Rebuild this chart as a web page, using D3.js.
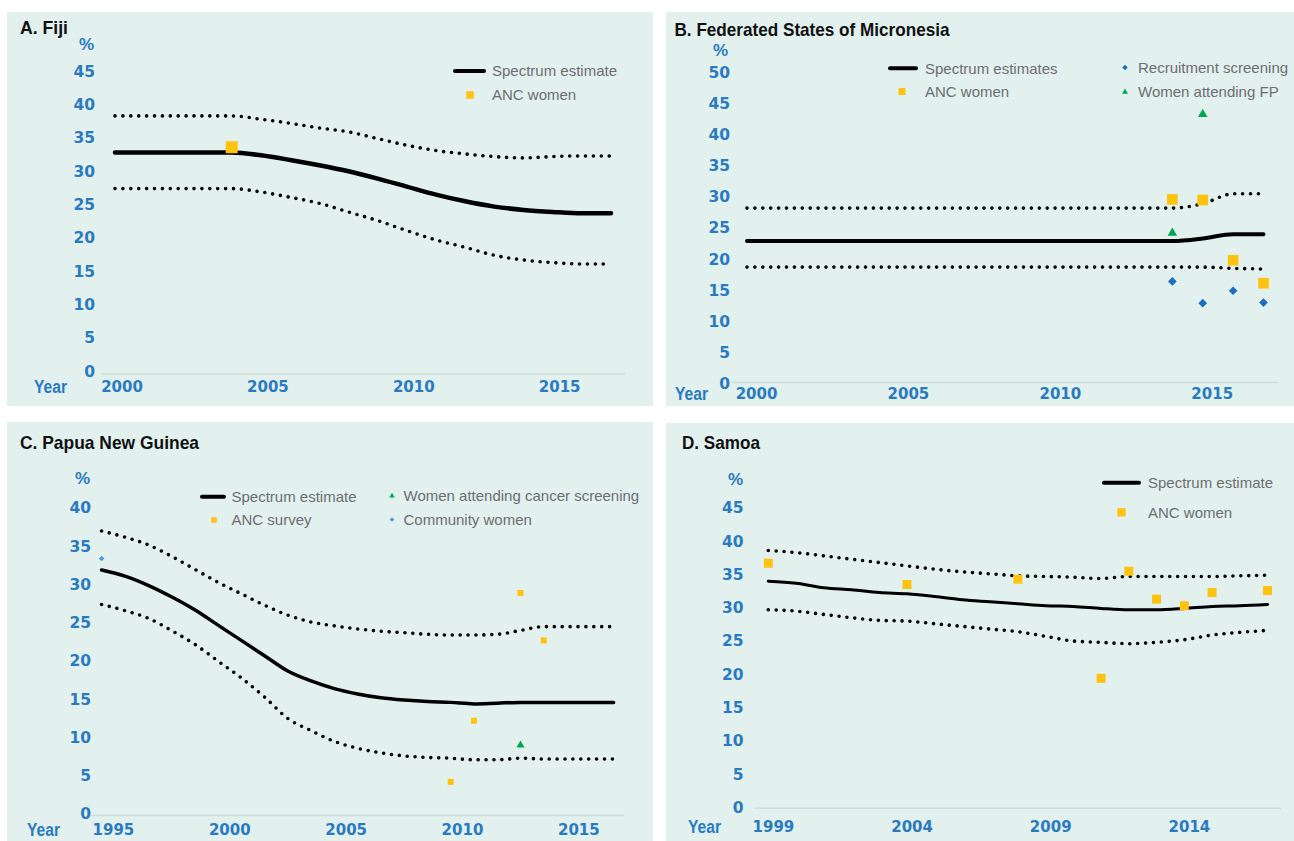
<!DOCTYPE html>
<html><head><meta charset="utf-8">
<script src="https://cdn.jsdelivr.net/npm/d3@7"></script>
<style>body{margin:0;background:#fff} svg{display:block}</style>
</head><body>
<svg id="chart" width="1294" height="841"></svg>
<script>
// ---------------- DATA ----------------
// A. Fiji
const fijiYears    = [2000,2001,2002,2003,2004,2005,2006,2007,2008,2009,2010,2011,2012,2013,2014,2015,2016,2017];
const fijiSpectrum = [32.7,32.7,32.7,32.7,32.7,32.3,31.6,30.8,29.9,28.8,27.6,26.4,25.4,24.6,24.1,23.8,23.6,23.6];
const fijiUpper    = [38.2,38.2,38.2,38.2,38.2,37.7,37.1,36.4,35.8,34.8,33.8,33.0,32.5,32.1,31.9,32.1,32.2,32.2];
const fijiLower    = [27.3,27.3,27.3,27.3,27.3,26.8,26.0,25.1,23.8,22.5,21.0,19.6,18.5,17.3,16.6,16.2,16.0,16.0];
const fijiAncYears = [2004];
const fijiAncValues = [33.5];
const fijiXTicks = [2000,2005,2010,2015];
const fijiYTicks = [0,5,10,15,20,25,30,35,40,45];

// B. Federated States of Micronesia
const fsmYears    = [2000,2001,2002,2003,2004,2005,2006,2007,2008,2009,2010,2011,2012,2013,2014,2015,2016,2017];
const fsmSpectrum = [22.8,22.8,22.8,22.8,22.8,22.8,22.8,22.8,22.8,22.8,22.8,22.8,22.8,22.8,22.8,23.2,23.9,23.9];
const fsmUpper    = [28.1,28.1,28.1,28.1,28.1,28.1,28.1,28.1,28.1,28.1,28.1,28.1,28.1,28.1,28.1,28.8,30.4,30.4];
const fsmLower    = [18.6,18.6,18.6,18.6,18.6,18.6,18.6,18.6,18.6,18.6,18.6,18.6,18.6,18.6,18.6,18.6,18.4,18.3];
const fsmAncYears = [2014,2015,2016,2017];
const fsmAncValues = [29.5,29.4,19.7,16.0];
const fsmRecruitYears = [2014,2015,2016,2017];
const fsmRecruitValues = [16.3,12.8,14.8,12.9];
const fsmFpYears = [2014,2015];
const fsmFpValues = [24.1,43.2];
const fsmXTicks = [2000,2005,2010,2015];
const fsmYTicks = [0,5,10,15,20,25,30,35,40,45,50];

// C. Papua New Guinea
const pngYears    = [1995,1996,1997,1998,1999,2000,2001,2002,2003,2004,2005,2006,2007,2008,2009,2010,2011,2012,2013,2014,2015,2016,2017];
const pngSpectrum = [31.8,31.0,29.8,28.3,26.6,24.6,22.6,20.6,18.6,17.3,16.3,15.6,15.1,14.8,14.6,14.5,14.3,14.4,14.5,14.5,14.5,14.5,14.5];
const pngUpper    = [36.9,36.1,35.1,33.6,31.9,30.2,28.7,27.2,25.9,25.0,24.5,24.1,23.8,23.6,23.4,23.3,23.3,23.4,23.9,24.4,24.4,24.4,24.4];
const pngLower    = [27.3,26.5,25.5,23.9,22.1,19.9,17.7,15.2,12.4,10.8,9.4,8.5,7.9,7.5,7.3,7.2,7.0,7.0,7.2,7.1,7.1,7.1,7.1];
const pngAncYears = [2010,2011,2013,2014];
const pngAncValues = [4.1,12.1,28.8,22.6];
const pngCancerYears = [2013];
const pngCancerValues = [8.9];
const pngCommunityYears = [1995];
const pngCommunityValues = [33.3];
const pngXTicks = [1995,2000,2005,2010,2015];
const pngYTicks = [0,5,10,15,20,25,30,35,40];

// D. Samoa
const samoaYears    = [1999,2000,2001,2002,2003,2004,2005,2006,2007,2008,2009,2010,2011,2012,2013,2014,2015,2016,2017];
const samoaSpectrum = [33.9,33.6,32.9,32.6,32.2,32.0,31.6,31.1,30.8,30.5,30.2,30.1,29.8,29.6,29.6,29.8,30.1,30.2,30.4];
const samoaUpper    = [38.5,38.2,37.7,37.2,36.7,36.2,35.7,35.3,35.0,34.7,34.6,34.5,34.3,34.6,34.6,34.6,34.6,34.7,34.8];
const samoaLower    = [29.6,29.4,28.9,28.4,28.0,27.9,27.5,27.1,26.7,26.3,25.6,24.9,24.7,24.5,24.7,25.1,25.8,26.2,26.5];
const samoaAncYears = [1999,2004,2008,2011,2012,2013,2014,2015,2017];
const samoaAncValues = [36.6,33.4,34.2,19.3,35.4,31.2,30.2,32.2,32.5];
const samoaXTicks = [1999,2004,2009,2014];
const samoaYTicks = [0,5,10,15,20,25,30,35,40,45];

// ---------------- STYLE ----------------
const BG = '#e2f1ee';
const TICK_BLUE = '#2a7abf';
const YELLOW = '#ffc20e';
const GREEN = '#00a651';
const BLUE = '#1b6fbd';
const LIGHTBLUE = '#4f9ad8';
const LEGEND_GREY = '#6d6e71';
const TITLE_FONT = '"Liberation Sans", Arial, sans-serif';
const TICK_FONT = '"DejaVu Sans", sans-serif';

const svg = d3.select('#chart');

function symbolPath(shape, size) {
  if (shape === 'square') return d3.symbol(d3.symbolSquare, size * size)();
  if (shape === 'diamond') { const s = size / Math.SQRT2; return d3.symbol(d3.symbolSquare, s * s)(); }
  if (shape === 'triangle') return d3.symbol(d3.symbolTriangle, size * size * Math.sqrt(3) / 4)();
}
function markerTransform(shape, x, y) {
  return `translate(${x},${y})` + (shape === 'diamond' ? ' rotate(45)' : '');
}

function drawPanel(c) {
  const g = svg.append('g');
  g.append('rect').attr('x', c.bg[0]).attr('y', c.bg[1]).attr('width', c.bg[2]).attr('height', c.bg[3]).attr('fill', BG);

  g.append('text').attr('x', c.titlePos[0]).attr('y', c.titlePos[1]).attr('dy', '0.36em')
    .attr('font-family', TITLE_FONT).attr('font-weight', 'bold').attr('font-size', 18.5)
    .attr('textLength', c.titleWidth).attr('lengthAdjust', 'spacingAndGlyphs')
    .attr('fill', '#111').text(c.title);

  const x = d3.scaleLinear().domain(c.xDomain).range(c.xRange);
  const yMax = c.yTicks[c.yTicks.length - 1];
  const y = d3.scaleLinear().domain([0, yMax]).range([c.yZero, c.yZero - yMax * c.yPx]);

  // x axis line
  g.append('line').attr('x1', c.axisX[0]).attr('x2', c.axisX[1]).attr('y1', c.axisY).attr('y2', c.axisY)
    .attr('stroke', '#cfdcd9').attr('stroke-width', 1.5);

  // y axis labels
  const ya = g.append('g').attr('transform', `translate(${c.yLabelRight},0)`)
    .call(d3.axisLeft(y).tickValues(c.yTicks).tickSize(0).tickPadding(0));
  ya.select('.domain').remove();
  ya.selectAll('text').attr('font-family', TICK_FONT).attr('font-weight', 'bold').attr('font-size', 15.5)
    .attr('fill', TICK_BLUE).attr('dy', '0.36em');

  // x axis labels
  const xa = g.append('g').attr('transform', `translate(${c.xLabelDx},${c.xLabelY})`)
    .call(d3.axisBottom(x).tickValues(c.xTicks).tickSize(0).tickPadding(0).tickFormat(d3.format('d')));
  xa.select('.domain').remove();
  xa.selectAll('text').attr('y', 0).attr('dy', '0.36em').attr('font-family', TICK_FONT).attr('font-weight', 'bold')
    .attr('font-size', 15).attr('fill', TICK_BLUE);

  // % and Year
  g.append('text').attr('x', c.pctPos[0]).attr('y', c.pctPos[1]).attr('dy', '0.36em').attr('text-anchor', 'end')
    .attr('font-family', TITLE_FONT).attr('font-weight', 'bold').attr('font-size', 17).attr('fill', TICK_BLUE).text('%');
  g.append('text').attr('x', c.yearPos[0]).attr('y', c.xLabelY).attr('dy', '0.36em')
    .attr('font-family', TITLE_FONT).attr('font-weight', 'bold').attr('font-size', 17.5)
    .attr('textLength', 33).attr('lengthAdjust', 'spacingAndGlyphs')
    .attr('fill', TICK_BLUE).text('Year');

  // lines
  const mk = (vals) => d3.line().x((d, i) => x(c.years[i])).y(d => y(d)).curve(d3.curveMonotoneX)(vals);
  [c.upper, c.lower].forEach(vals => {
    g.append('path').attr('d', mk(vals)).attr('fill', 'none').attr('stroke', '#000')
      .attr('stroke-width', 3.6).attr('stroke-linecap', 'round').attr('stroke-dasharray', '0 7.9');
  });
  g.append('path').attr('d', mk(c.mid)).attr('fill', 'none').attr('stroke', '#000')
    .attr('stroke-width', c.lineWidth).attr('stroke-linecap', 'round');

  // points
  c.points.forEach(p => {
    g.selectAll(null).data(p.values).enter().append('path')
      .attr('d', symbolPath(p.shape, p.size))
      .attr('transform', (d, i) => markerTransform(p.shape, x(p.years[i]), y(d)))
      .attr('fill', p.color);
  });

  // legend
  c.legend.forEach(l => {
    if (l.type === 'line') {
      g.append('line').attr('x1', l.x1).attr('x2', l.x2).attr('y1', l.y).attr('y2', l.y)
        .attr('stroke', '#000').attr('stroke-width', 4).attr('stroke-linecap', 'round');
    } else {
      g.append('path').attr('d', symbolPath(l.shape, l.size)).attr('transform', markerTransform(l.shape, l.mx, l.y))
        .attr('fill', l.color);
    }
    g.append('text').attr('x', l.tx).attr('y', l.y).attr('dy', '0.36em')
      .attr('font-family', TITLE_FONT).attr('font-size', 15).attr('fill', LEGEND_GREY).text(l.label);
  });
}

// A. Fiji
drawPanel({
  bg: [7, 12, 646, 394], title: 'A. Fiji', titleWidth: 48, titlePos: [20, 27],
  years: fijiYears, mid: fijiSpectrum, upper: fijiUpper, lower: fijiLower,
  xDomain: [2000, 2017], xRange: [115, 611], xTicks: fijiXTicks, xLabelDx: 6.5, xLabelY: 386.5,
  yTicks: fijiYTicks, yZero: 370.7, yPx: 6.67, yLabelRight: 95,
  axisY: 374, axisX: [101, 625], pctPos: [94, 43.5], yearPos: [34, 0],
  lineWidth: 4.5,
  points: [{years: fijiAncYears, values: fijiAncValues, shape: 'square', size: 12, color: YELLOW}],
  legend: [
    {type: 'line', x1: 455, x2: 484, y: 71, tx: 492, label: 'Spectrum estimate'},
    {type: 'marker', shape: 'square', size: 7.5, color: YELLOW, mx: 470, y: 95, tx: 492, label: 'ANC women'}
  ]
});

// B. FSM
drawPanel({
  bg: [666, 12, 628, 394], title: 'B. Federated States of Micronesia', titleWidth: 275, titlePos: [674.5, 29.3],
  years: fsmYears, mid: fsmSpectrum, upper: fsmUpper, lower: fsmLower,
  xDomain: [2000, 2017], xRange: [747, 1263.5], xTicks: fsmXTicks, xLabelDx: 9, xLabelY: 393.3,
  yTicks: fsmYTicks, yZero: 382.7, yPx: 6.214, yLabelRight: 730,
  axisY: 382.5, axisX: [732, 1278], pctPos: [728, 50], yearPos: [675, 0],
  lineWidth: 4,
  points: [
    {years: fsmAncYears, values: fsmAncValues, shape: 'square', size: 10.7, color: YELLOW},
    {years: fsmRecruitYears, values: fsmRecruitValues, shape: 'diamond', size: 8.7, color: BLUE},
    {years: fsmFpYears, values: fsmFpValues, shape: 'triangle', size: 9.5, color: GREEN}
  ],
  legend: [
    {type: 'line', x1: 890, x2: 916, y: 68.3, tx: 925, label: 'Spectrum estimates'},
    {type: 'marker', shape: 'square', size: 7, color: YELLOW, mx: 902, y: 91.5, tx: 925, label: 'ANC women'},
    {type: 'marker', shape: 'diamond', size: 5.5, color: BLUE, mx: 1125, y: 67.5, tx: 1138, label: 'Recruitment screening'},
    {type: 'marker', shape: 'triangle', size: 6, color: GREEN, mx: 1125, y: 92, tx: 1138, label: 'Women attending FP'}
  ]
});

// C. PNG
drawPanel({
  bg: [7, 422, 646, 419], title: 'C. Papua New Guinea', titleWidth: 179, titlePos: [20, 442.7],
  years: pngYears, mid: pngSpectrum, upper: pngUpper, lower: pngLower,
  xDomain: [1995, 2017], xRange: [101.6, 613.6], xTicks: pngXTicks, xLabelDx: 11.3, xLabelY: 829.3,
  yTicks: pngYTicks, yZero: 813.3, yPx: 7.65, yLabelRight: 91,
  axisY: 815.5, axisX: [91, 624], pctPos: [90, 478.3], yearPos: [27, 0],
  lineWidth: 3.5,
  points: [
    {years: pngAncYears, values: pngAncValues, shape: 'square', size: 6, color: YELLOW},
    {years: pngCancerYears, values: pngCancerValues, shape: 'triangle', size: 8, color: GREEN},
    {years: pngCommunityYears, values: pngCommunityValues, shape: 'diamond', size: 5.5, color: LIGHTBLUE}
  ],
  legend: [
    {type: 'line', x1: 202, x2: 224, y: 496.7, tx: 231.5, label: 'Spectrum estimate'},
    {type: 'marker', shape: 'square', size: 5.5, color: YELLOW, mx: 214, y: 520, tx: 231.5, label: 'ANC survey'},
    {type: 'marker', shape: 'triangle', size: 5.5, color: GREEN, mx: 392, y: 496, tx: 403.5, label: 'Women attending cancer screening'},
    {type: 'marker', shape: 'diamond', size: 4.5, color: LIGHTBLUE, mx: 392, y: 519.5, tx: 403.5, label: 'Community women'}
  ]
});

// D. Samoa
drawPanel({
  bg: [666, 423, 628, 418], title: 'D. Samoa', titleWidth: 78, titlePos: [682, 442.7],
  years: samoaYears, mid: samoaSpectrum, upper: samoaUpper, lower: samoaLower,
  xDomain: [1999, 2017], xRange: [768.3, 1267.5], xTicks: samoaXTicks, xLabelDx: 4.6, xLabelY: 826.7,
  yTicks: samoaYTicks, yZero: 806.7, yPx: 6.653, yLabelRight: 743.5,
  axisY: 808.3, axisX: [755, 1281], pctPos: [743, 478.7], yearPos: [688, 0],
  lineWidth: 3,
  points: [{years: samoaAncYears, values: samoaAncValues, shape: 'square', size: 9, color: YELLOW}],
  legend: [
    {type: 'line', x1: 1104, x2: 1139, y: 482.7, tx: 1148, label: 'Spectrum estimate'},
    {type: 'marker', shape: 'square', size: 8.3, color: YELLOW, mx: 1121.5, y: 512.3, tx: 1148, label: 'ANC women'}
  ]
});
</script>
</body></html>
